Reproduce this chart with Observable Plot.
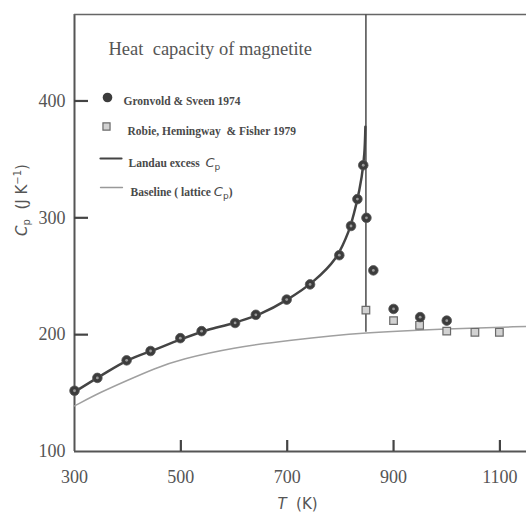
<!DOCTYPE html>
<html>
<head>
<meta charset="utf-8">
<script src="https://cdn.jsdelivr.net/npm/d3@7"></script>
<script src="https://cdn.jsdelivr.net/npm/@observablehq/plot@0.6"></script>
<style>
  html, body { margin: 0; padding: 0; background: #fff; }
</style>
</head>
<body>
<div id="chart"></div>
<script>
// Gronvold & Sveen 1974 (circles)
const gronT  = [300, 343, 398, 443, 499, 539, 602, 641, 699, 743, 798, 820, 832, 843, 849, 862, 900, 950, 1000];
const gronCp = [152, 163, 178, 186, 197, 203, 210, 217, 230, 243, 268, 293, 316, 345, 300, 255, 222, 215, 212];
// Robie, Hemingway & Fisher 1979 (squares)
const robieT  = [848, 900, 949, 1000, 1053, 1099];
const robieCp = [221, 212, 208, 203, 202, 202];
// Landau excess Cp curve
const landauT  = [300, 350, 400, 450, 500, 550, 600, 650, 700, 750, 790, 815, 830, 840, 845, 847];
const landauCp = [151, 165, 178, 187, 196, 204, 210, 218, 230, 246, 265, 288, 312, 335, 355, 378];
// Baseline (lattice Cp)
const baseT  = [300, 350, 400, 450, 500, 600, 700, 848, 1000, 1150];
const baseCp = [139, 151, 161, 171, 179, 189, 195, 202, 205, 207];
// Transition temperature and baseline value there
const tc = 848, tcBase = 202;
// Axis ticks and domains
const xTicks = [300, 500, 700, 900, 1100];
const yTicks = [100, 200, 300, 400];
const xDomain = [300, 1150];
const yDomain = [100, 474];

const gron = gronT.map((t, i) => ({T: t, Cp: gronCp[i]}));
const robie = robieT.map((t, i) => ({T: t, Cp: robieCp[i]}));
const landau = landauT.map((t, i) => ({T: t, Cp: landauCp[i]}));
const base = baseT.map((t, i) => ({T: t, Cp: baseCp[i]}));

const W = 526, H = 517, mL = 74, mT = 14, mB = 66, mR = 0;
const frameW = W - mL - mR, frameH = H - mT - mB;
const lineShape = {draw(ctx, l) { ctx.moveTo(0, 0); ctx.lineTo(0, -l); }};
const serif = "Liberation Serif, Times New Roman, serif";
const sans = "DejaVu Sans, sans-serif";
const ink = "#4a4a4a";
const legendFont = {textAnchor: "start", fontSize: 11.5, fontWeight: "bold", fill: ink, fontFamily: serif, frameAnchor: "top-left"};

const chart = Plot.plot({
  width: W,
  height: H,
  marginLeft: mL,
  marginTop: mT,
  marginBottom: mB,
  marginRight: mR,
  style: {background: "#fff", fontFamily: serif},
  x: {domain: xDomain},
  y: {domain: yDomain},
  marks: [
    // tick labels
    Plot.axisX({ticks: xTicks, tickFormat: d => String(d), tickSize: 0, tickPadding: 19, fontSize: 18, fill: "#555", label: null, fontFamily: serif}),
    Plot.axisY({ticks: yTicks, tickFormat: d => String(d), tickSize: 0, tickPadding: 9, fontSize: 18, fill: "#555", label: null, fontFamily: serif}),
    // frame lines
    Plot.ruleX([xDomain[0]], {stroke: "#555", strokeWidth: 2}),
    Plot.ruleY([yDomain[0]], {stroke: "#555", strokeWidth: 2}),
    Plot.ruleY([yDomain[1]], {stroke: "#666", strokeWidth: 1.5}),
    // inward tick marks
    Plot.ruleX(xTicks.slice(1), {x: d => d, insetTop: frameH - 11, stroke: "#444", strokeWidth: 2.2}),
    Plot.ruleY(yTicks.slice(1), {y: d => d, insetRight: frameW - 14, stroke: "#444", strokeWidth: 2.2}),
    // curves
    Plot.line(base, {x: "T", y: "Cp", stroke: "#a0a0a0", strokeWidth: 1.5, curve: "basis"}),
    Plot.ruleX([tc], {y1: tcBase, y2: yDomain[1], stroke: "#555", strokeWidth: 1.6}),
    Plot.line(landau, {x: "T", y: "Cp", stroke: "#444", strokeWidth: 2.5, curve: "catmull-rom"}),
    // data points
    Plot.dot(robie, {x: "T", y: "Cp", symbol: "square", r: 4.3, fill: "#d2d2d2", stroke: "#6a6a6a", strokeWidth: 1.2}),
    Plot.dot(gron, {x: "T", y: "Cp", r: 4.8, fill: "#3c3c3c", stroke: "#555", strokeWidth: 0.8}),
    Plot.dot(gron, {x: "T", y: "Cp", r: 1.4, fill: "#9a9a9a"}),
    // in-plot title and legend
    Plot.text(["Heat  capacity of magnetite"], {frameAnchor: "top-left", dx: 34, dy: 27, textAnchor: "start", fontSize: 18.5, fill: "#555", fontFamily: serif}),
    Plot.dot([0], {frameAnchor: "top-left", dx: 33, dy: 83, r: 4.8, fill: "#3c3c3c"}),
    Plot.dot([0], {frameAnchor: "top-left", dx: 32, dy: 112, symbol: "square", r: 4, fill: "#d2d2d2", stroke: "#6a6a6a", strokeWidth: 1.2}),
    Plot.vector([0], {frameAnchor: "top-left", dx: 26, dy: 144, rotate: 90, length: 21, anchor: "start", shape: lineShape, stroke: "#444", strokeWidth: 2.2}),
    Plot.vector([0], {frameAnchor: "top-left", dx: 26, dy: 173, rotate: 90, length: 22, anchor: "start", shape: lineShape, stroke: "#999", strokeWidth: 1.3}),
    Plot.text(["Gronvold & Sveen 1974"], {...legendFont, dx: 49, dy: 82}),
    Plot.text(["Robie, Hemingway  & Fisher 1979"], {...legendFont, dx: 53, dy: 112}),
    Plot.text(["Landau excess  Cp"], {...legendFont, dx: 54, dy: 144}),
    Plot.text(["Baseline ( lattice Cp)"], {...legendFont, dx: 56, dy: 173}),
    // axis labels
    Plot.text(["Cp  (J K-1)"], {frameAnchor: "left", dx: -52, dy: 3, rotate: -90, fontSize: 15, fill: "#555", fontFamily: sans}),
    Plot.text(["T  (K)"], {frameAnchor: "bottom", dx: -3, dy: 57, fontSize: 15, fill: "#555", fontFamily: sans})
  ]
});

// Rich formatting: italic C with subscript p, superscript -1, italic T
d3.select(chart).selectAll("text").each(function() {
  const el = d3.select(this);
  const txt = this.textContent;
  if (txt.includes("Cp") && !txt.includes("J K")) {
    const [before, after] = txt.split("Cp");
    el.text(null);
    el.append("tspan").text(before);
    el.append("tspan").attr("font-family", sans).attr("font-style", "italic").attr("font-weight", "normal").attr("font-size", 13).text("C");
    el.append("tspan").attr("font-family", sans).attr("font-weight", "normal").attr("font-size", 9).attr("dy", 3).text("p");
    if (after) el.append("tspan").attr("dy", -3).text(after);
  } else if (txt.startsWith("Cp  (J K-1)")) {
    el.text(null);
    el.append("tspan").attr("font-style", "italic").text("C");
    el.append("tspan").attr("font-size", 10).attr("dy", 3).text("p");
    el.append("tspan").attr("dy", -3).text("  (J K");
    el.append("tspan").attr("font-size", 10).attr("dy", -6).text("−1");
    el.append("tspan").attr("dy", 6).text(")");
  } else if (txt === "T  (K)") {
    el.text(null);
    el.append("tspan").attr("font-style", "italic").text("T");
    el.append("tspan").text("  (K)");
  }
});

document.getElementById("chart").appendChild(chart);
</script>
</body>
</html>
